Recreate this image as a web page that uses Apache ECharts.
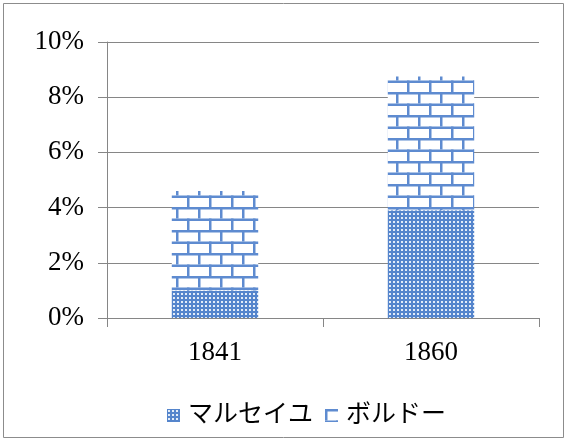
<!DOCTYPE html>
<html>
<head>
<meta charset="utf-8">
<script src="https://cdn.jsdelivr.net/npm/echarts@6/dist/echarts.min.js"></script>
<style>
  html, body { margin: 0; padding: 0; background: #fff; }
  #chart { width: 567px; height: 441px; }
</style>
</head>
<body>
<div id="chart"></div>
<script>
// Years shown on the category axis
const years = ['1841', '1860'];
// Shares (percent) for each port, stacked
const marseille = [1.0, 3.9];
const bordeaux = [3.6, 4.85];
// Value axis ticks
const yTicks = [0, 2, 4, 6, 8, 10];

const BLUE = '#5585cc';

// Dotted fill: blue ground with a grid of small light dots
function dotPattern() {
  const c = document.createElement('canvas');
  c.width = 4; c.height = 4;
  const g = c.getContext('2d');
  g.fillStyle = BLUE;
  g.fillRect(0, 0, 4, 4);
  g.fillStyle = '#e3ecf8';
  g.fillRect(1, 1, 2, 2);
  return c;
}

// Brick fill: white ground with blue mortar lines
function brickPattern() {
  const w = 22, h = 23, half = 11.5;
  const c = document.createElement('canvas');
  c.width = w; c.height = h;
  const g = c.getContext('2d');
  g.fillStyle = '#ffffff';
  g.fillRect(0, 0, w, h);
  g.fillStyle = '#5e8bd0';
  g.fillRect(0, 0, w, 2.5);
  g.fillRect(0, half, w, 2.5);
  g.fillRect(0, 0, 2.5, half);
  g.fillRect(w / 2, half, 2.5, half);
  return c;
}

const chart = echarts.init(document.getElementById('chart'), null, { renderer: 'canvas' });
const numFont = '"Liberation Serif", "DejaVu Serif", serif';
const jpFont = '"Liberation Serif", "Noto Sans CJK JP", serif';

chart.setOption({
  animation: false,
  backgroundColor: '#ffffff',
  graphic: [{
    type: 'rect',
    shape: { x: 3.5, y: 3.5, width: 560, height: 434 },
    style: { fill: 'none', stroke: '#8c8c8c', lineWidth: 1 },
    silent: true
  }],
  grid: { left: 107, right: 28, top: 42, bottom: 123 },
  legend: {
    bottom: 8,
    left: 162,
    itemWidth: 13,
    itemHeight: 13,
    itemGap: 12,
    icon: 'rect',
    textStyle: { fontFamily: jpFont, fontSize: 25, color: '#000', padding: [0, 0, 0, 3] },
    data: ['マルセイユ', 'ボルドー']
  },
  xAxis: {
    type: 'category',
    data: years,
    axisLine: { lineStyle: { color: '#868686', width: 1 } },
    axisTick: { show: true, length: 9, alignWithLabel: false, lineStyle: { color: '#868686' } },
    axisLabel: { fontFamily: numFont, fontSize: 27, color: '#000', margin: 21 }
  },
  yAxis: {
    type: 'value',
    min: yTicks[0],
    max: yTicks[yTicks.length - 1],
    interval: 2,
    axisLine: { show: true, lineStyle: { color: '#868686', width: 1 } },
    axisTick: { show: true, length: 9, lineStyle: { color: '#868686' } },
    splitLine: { lineStyle: { color: '#868686', width: 1 } },
    axisLabel: {
      fontFamily: numFont, fontSize: 27, color: '#000', margin: 23,
      formatter: v => v + '%'
    }
  },
  series: [{
    name: 'マルセイユ',
    type: 'bar',
    stack: 'share',
    barWidth: '40%',
    data: marseille,
    itemStyle: { color: { image: dotPattern(), repeat: 'repeat' } }
  }, {
    name: 'ボルドー',
    type: 'bar',
    stack: 'share',
    barWidth: '40%',
    data: bordeaux,
    itemStyle: { color: { image: brickPattern(), repeat: 'repeat' } }
  }]
});
</script>
</body>
</html>
